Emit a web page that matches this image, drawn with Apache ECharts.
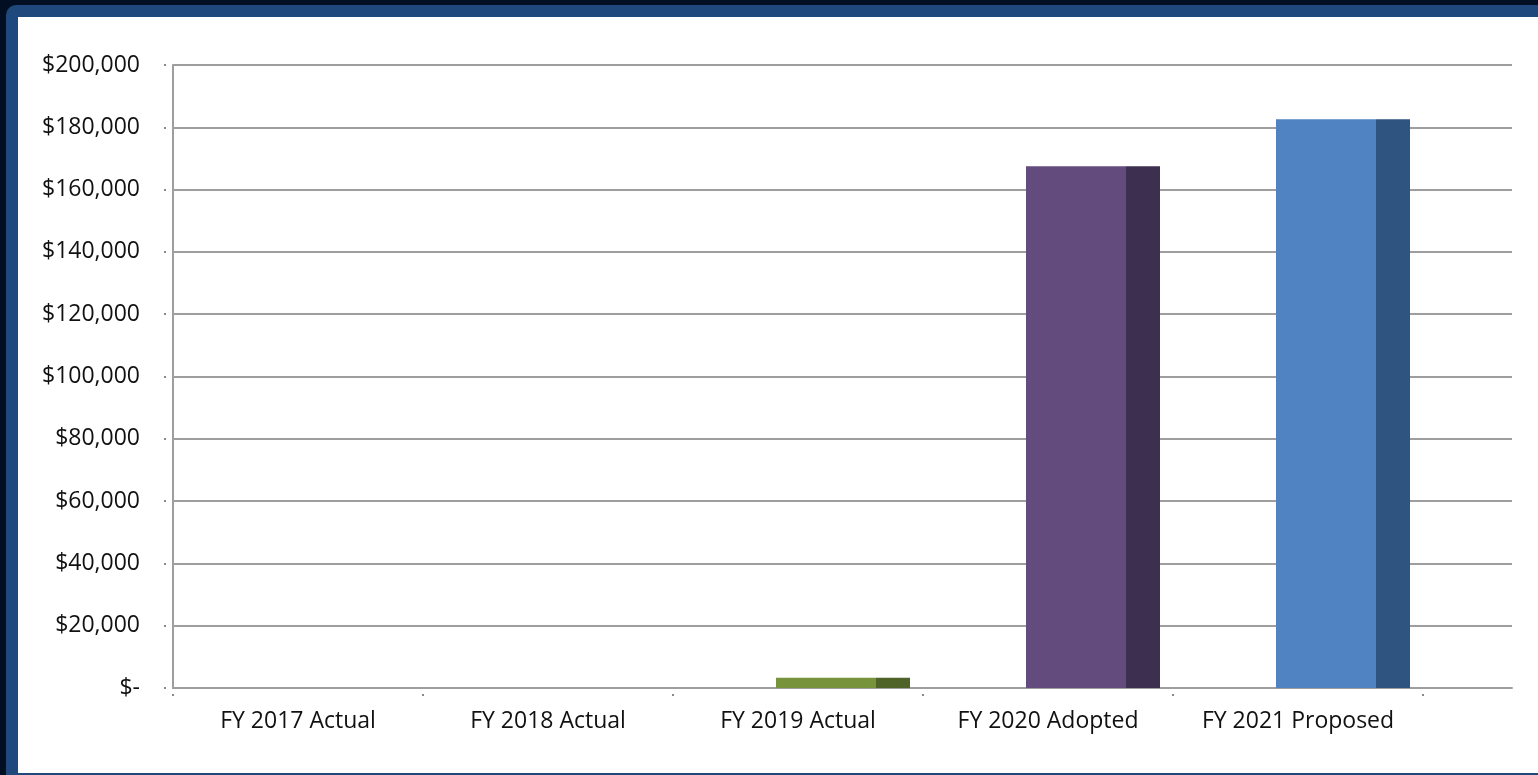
<!DOCTYPE html>
<html>
<head>
<meta charset="utf-8">
<script src="https://cdn.jsdelivr.net/npm/echarts@6/dist/echarts.min.js"></script>
<style>
  html, body { margin: 0; padding: 0; }
  body { width: 1538px; height: 775px; background: #020e22; position: relative; overflow: hidden; }
  #frame { position: absolute; left: 6px; top: 5px; right: 0; bottom: 0; background: #1f497d; border-top-left-radius: 10px; }
  #paper { position: absolute; left: 18px; top: 17px; width: 1520px; height: 756px; background: #fff; }
  #chart { position: absolute; left: 0; top: 0; width: 1538px; height: 775px; }
</style>
</head>
<body>
<div id="frame"></div>
<div id="paper"></div>
<div id="chart"></div>
<script>
// budget by fiscal year
const categories = ['FY 2017 Actual', 'FY 2018 Actual', 'FY 2019 Actual', 'FY 2020 Adopted', 'FY 2021 Proposed'];
const amounts = [0, 0, 3300, 167500, 182600];
const yTicks = { min: 0, max: 200000, interval: 20000 };

// face / side colours per bar (Excel 3D column look)
const frontColors = ['#4f81bd', '#c0504d', '#77933c', '#634c7d', '#5083c1'];
const sideColors = ['#2c4d75', '#7f3230', '#4f6228', '#3d2f50', '#305480'];

const FONT = '"Open Sans", "Noto Sans", sans-serif';
const GRAY = '#9e9e9e';

const fmtMoney = (v) => (v === 0 ? '$-' : '$' + v.toLocaleString('en-US'));

const chart = echarts.init(document.getElementById('chart'), null, { renderer: 'canvas' });

chart.setOption({
  backgroundColor: 'transparent',
  animation: false,
  textStyle: { fontFamily: FONT },
  grid: [
    // back wall: gridlines run past the last category
    { left: 173, right: 26, top: 65, bottom: 87 },
    // floor: categories + bars
    { left: 173, right: 115, top: 65, bottom: 87 },
  ],
  xAxis: [
    {
      gridIndex: 0, type: 'value', min: 0, max: 1,
      axisLine: { show: true, lineStyle: { color: GRAY, width: 2 } },
      axisTick: { show: false }, axisLabel: { show: false }, splitLine: { show: false },
    },
    {
      gridIndex: 1, type: 'category', data: categories,
      axisLine: { show: false }, axisTick: { show: false },
      axisLabel: { color: '#111', fontSize: 23, fontFamily: FONT, margin: 22, interval: 0 },
    },
    {
      // little detached tick dots under the floor
      gridIndex: 1, type: 'category', data: categories, position: 'bottom', offset: 6,
      axisLine: { show: false }, axisLabel: { show: false },
      axisTick: { show: true, length: 2, lineStyle: { color: '#888', width: 2 } },
    },
  ],
  yAxis: [
    {
      gridIndex: 0, type: 'value', position: 'left', ...yTicks,
      axisLine: { show: true, lineStyle: { color: GRAY, width: 2 } },
      axisTick: { show: false },
      splitLine: { show: true, lineStyle: { color: GRAY, width: 2 } },
      axisLabel: { color: '#111', fontSize: 23, fontFamily: FONT, margin: 33, formatter: fmtMoney },
    },
    {
      // detached tick dots left of the wall
      gridIndex: 0, type: 'value', position: 'left', ...yTicks, offset: 7,
      axisLine: { show: false }, axisLabel: { show: false }, splitLine: { show: false },
      axisTick: { show: true, length: 2, lineStyle: { color: '#888', width: 2 } },
    },
    { gridIndex: 1, type: 'value', ...yTicks, show: false },
  ],
  series: [
    {
      // spacer so the visible column sits right of centre (3D depth offset)
      type: 'bar', xAxisIndex: 1, yAxisIndex: 2, barWidth: 90, barGap: 0,
      data: amounts, itemStyle: { color: 'rgba(0,0,0,0)' }, silent: true,
    },
    {
      type: 'bar', xAxisIndex: 1, yAxisIndex: 2, barWidth: 100, barGap: 0,
      data: amounts.map((v, i) => ({ value: v, itemStyle: { color: frontColors[i] } })),
    },
    {
      type: 'bar', xAxisIndex: 1, yAxisIndex: 2, barWidth: 34, barGap: 0,
      data: amounts.map((v, i) => ({ value: v, itemStyle: { color: sideColors[i] } })),
    },
  ],
});
</script>
</body>
</html>
